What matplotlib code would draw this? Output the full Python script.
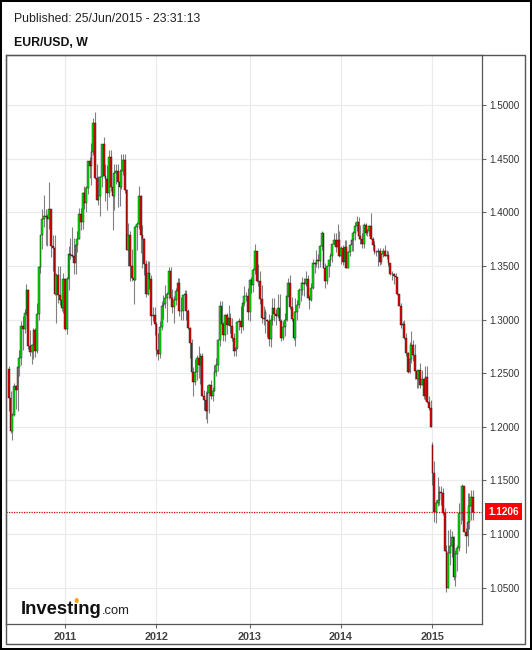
import matplotlib
matplotlib.use('Agg')
import matplotlib.pyplot as plt
import numpy as np
import pandas as pd
from matplotlib.patches import Rectangle, Circle
import matplotlib.transforms as mtransforms

plt.rcParams['font.family'] = ['Liberation Sans', 'DejaVu Sans']

# ---------------- data ----------------
first_week = '2010-05-23'
published = 'Published: 25/Jun/2015 - 23:31:13'
title = 'EUR/USD, W'
current_price = 1.1206
price_ticks = [1.05, 1.10, 1.15, 1.20, 1.25, 1.30, 1.35, 1.40, 1.45, 1.50]

opens_2010 = [1.2540, 1.2270, 1.1960, 1.2110, 1.2380, 1.2340, 1.2560, 1.2640, 1.2940, 1.2910, 1.3060, 1.3280,
              1.2750, 1.2700, 1.2760, 1.2900, 1.2710, 1.3050, 1.3490, 1.3790, 1.3940, 1.3970, 1.3960, 1.3940,
              1.4030, 1.3690, 1.3670, 1.3240, 1.3420, 1.3230, 1.3180, 1.3110]
highs_2010 = [1.2570, 1.2330, 1.2130, 1.2410, 1.2390, 1.2570, 1.2720, 1.2990, 1.3030, 1.3100, 1.3330, 1.3290,
              1.2900, 1.2770, 1.2920, 1.2920, 1.3160, 1.3500, 1.3790, 1.4030, 1.4160, 1.4030, 1.3990, 1.4280,
              1.4030, 1.3790, 1.3790, 1.3440, 1.3500, 1.3500, 1.3240, 1.3440]
lows_2010 = [1.2150, 1.1940, 1.1876, 1.2100, 1.2170, 1.2150, 1.2470, 1.2580, 1.2720, 1.2880, 1.3040, 1.2730,
             1.2660, 1.2590, 1.2630, 1.2650, 1.2690, 1.3000, 1.3440, 1.3660, 1.3860, 1.3700, 1.3690, 1.3850,
             1.3580, 1.3450, 1.3230, 1.2970, 1.3160, 1.3140, 1.3080, 1.3060]
closes_2010 = [1.2270, 1.1960, 1.2110, 1.2380, 1.2340, 1.2560, 1.2640, 1.2940, 1.2910, 1.3060, 1.3280, 1.2750,
               1.2700, 1.2760, 1.2900, 1.2710, 1.3050, 1.3490, 1.3790, 1.3940, 1.3970, 1.3960, 1.3940, 1.4030,
               1.3690, 1.3670, 1.3240, 1.3420, 1.3230, 1.3180, 1.3110, 1.3380]

opens_2011 = [1.3380, 1.2910, 1.3380, 1.3610, 1.3600, 1.3590, 1.3530, 1.3700, 1.3750, 1.3990, 1.3910, 1.4180,
              1.4090, 1.4230, 1.4480, 1.4430, 1.4560, 1.4830, 1.4320, 1.4120, 1.4150, 1.4330, 1.4640, 1.4340,
              1.4310, 1.4180, 1.4520, 1.4240, 1.4150, 1.4370, 1.4390, 1.4280, 1.4240, 1.4390, 1.4490, 1.4210,
              1.3650, 1.3790, 1.3500, 1.3390, 1.3370, 1.3860, 1.3890, 1.4150, 1.3790, 1.3750, 1.3520, 1.3240,
              1.3440, 1.3380, 1.3030, 1.3045]
highs_2011 = [1.3390, 1.3400, 1.3690, 1.3760, 1.3860, 1.3760, 1.3720, 1.3830, 1.4040, 1.4040, 1.4190, 1.4250,
              1.4250, 1.4480, 1.4520, 1.4650, 1.4880, 1.4940, 1.4450, 1.4340, 1.4340, 1.4640, 1.4700, 1.4450,
              1.4440, 1.4580, 1.4580, 1.4280, 1.4450, 1.4450, 1.4450, 1.4410, 1.4550, 1.4550, 1.4550, 1.4220,
              1.3900, 1.3830, 1.3660, 1.3450, 1.3880, 1.3910, 1.4250, 1.4160, 1.3880, 1.3760, 1.3560, 1.3550,
              1.3550, 1.3420, 1.3120, 1.3120]
lows_2011 = [1.2900, 1.2870, 1.3280, 1.3570, 1.3580, 1.3430, 1.3430, 1.3630, 1.3750, 1.3840, 1.3850, 1.4030,
             1.4000, 1.4170, 1.4320, 1.4260, 1.4540, 1.4310, 1.4120, 1.4070, 1.3970, 1.4240, 1.4340, 1.4110,
             1.4020, 1.4140, 1.4200, 1.3840, 1.4020, 1.4270, 1.4050, 1.4060, 1.4220, 1.4350, 1.4180, 1.3650,
             1.3500, 1.3360, 1.3360, 1.3150, 1.3370, 1.3650, 1.3850, 1.3620, 1.3480, 1.3420, 1.3210, 1.3230,
             1.3290, 1.2950, 1.2990, 1.2860]
closes_2011 = [1.2910, 1.3380, 1.3610, 1.3600, 1.3590, 1.3530, 1.3700, 1.3750, 1.3990, 1.3910, 1.4180, 1.4090,
               1.4230, 1.4480, 1.4430, 1.4560, 1.4830, 1.4320, 1.4120, 1.4150, 1.4330, 1.4640, 1.4340, 1.4310,
               1.4180, 1.4520, 1.4240, 1.4150, 1.4370, 1.4390, 1.4280, 1.4240, 1.4390, 1.4490, 1.4210, 1.3650,
               1.3790, 1.3500, 1.3390, 1.3370, 1.3860, 1.3890, 1.4150, 1.3790, 1.3750, 1.3520, 1.3240, 1.3440,
               1.3380, 1.3030, 1.3045, 1.2960]

opens_2012 = [1.2960, 1.2720, 1.2680, 1.2930, 1.3130, 1.3150, 1.3200, 1.3240, 1.3450, 1.3200, 1.3120, 1.3180,
              1.3270, 1.3340, 1.3080, 1.3080, 1.3230, 1.3240, 1.3080, 1.2920, 1.2780, 1.2510, 1.2420, 1.2510,
              1.2640, 1.2580, 1.2660, 1.2290, 1.2250, 1.2150, 1.2320, 1.2390, 1.2290, 1.2330, 1.2510, 1.2580,
              1.2810, 1.3130, 1.2960, 1.2860, 1.3040, 1.2950, 1.3020, 1.2940, 1.2830, 1.2710, 1.2740, 1.2980,
              1.2990, 1.2930, 1.3160, 1.3220, 1.3220]
highs_2012 = [1.2980, 1.2880, 1.2990, 1.3170, 1.3230, 1.3320, 1.3260, 1.3490, 1.3490, 1.3290, 1.3220, 1.3300,
              1.3390, 1.3390, 1.3210, 1.3220, 1.3280, 1.3280, 1.3100, 1.2930, 1.2820, 1.2560, 1.2630, 1.2670,
              1.2750, 1.2690, 1.2690, 1.2340, 1.2330, 1.2390, 1.2400, 1.2440, 1.2370, 1.2580, 1.2640, 1.2820,
              1.3170, 1.3170, 1.2980, 1.3050, 1.3060, 1.3140, 1.3060, 1.3020, 1.2880, 1.2810, 1.2990, 1.3020,
              1.3130, 1.3170, 1.3310, 1.3260, 1.3300]
lows_2012 = [1.2660, 1.2620, 1.2640, 1.2900, 1.3010, 1.3110, 1.2980, 1.3190, 1.3140, 1.3060, 1.2970, 1.3140,
             1.3230, 1.3030, 1.3000, 1.3000, 1.3110, 1.3000, 1.2910, 1.2640, 1.2500, 1.2290, 1.2390, 1.2440,
             1.2460, 1.2400, 1.2290, 1.2160, 1.2070, 1.2040, 1.2130, 1.2260, 1.2240, 1.2330, 1.2470, 1.2520,
             1.2750, 1.2920, 1.2800, 1.2800, 1.2870, 1.2950, 1.2880, 1.2800, 1.2660, 1.2660, 1.2730, 1.2900,
             1.2880, 1.2900, 1.3130, 1.3170, 1.3000]
closes_2012 = [1.2720, 1.2680, 1.2930, 1.3130, 1.3150, 1.3200, 1.3240, 1.3450, 1.3200, 1.3120, 1.3180, 1.3270,
               1.3340, 1.3080, 1.3080, 1.3230, 1.3240, 1.3080, 1.2920, 1.2780, 1.2510, 1.2420, 1.2510, 1.2640,
               1.2580, 1.2660, 1.2290, 1.2250, 1.2150, 1.2320, 1.2390, 1.2290, 1.2330, 1.2510, 1.2580, 1.2810,
               1.3130, 1.2960, 1.2860, 1.3040, 1.2950, 1.3020, 1.2940, 1.2830, 1.2710, 1.2740, 1.2980, 1.2990,
               1.2930, 1.3160, 1.3220, 1.3220, 1.3070]

opens_2013 = [1.3070, 1.3370, 1.3320, 1.3460, 1.3640, 1.3365, 1.3360, 1.3190, 1.3020, 1.3005, 1.3000, 1.2990,
              1.2820, 1.2995, 1.3110, 1.3050, 1.3030, 1.3110, 1.2990, 1.2830, 1.2930, 1.2996, 1.3220, 1.3345,
              1.3120, 1.3010, 1.2830, 1.3070, 1.3140, 1.3280, 1.3280, 1.3340, 1.3330, 1.3380, 1.3200, 1.3180,
              1.3300, 1.3525, 1.3520, 1.3555, 1.3550, 1.3685, 1.3805, 1.3485, 1.3365, 1.3500, 1.3555, 1.3590,
              1.3705, 1.3740, 1.3675, 1.3740]
highs_2013 = [1.3380, 1.3400, 1.3480, 1.3710, 1.3640, 1.3520, 1.3450, 1.3320, 1.3130, 1.3100, 1.3010, 1.3050,
              1.3040, 1.3200, 1.3200, 1.3100, 1.3240, 1.3240, 1.3010, 1.2990, 1.3060, 1.3240, 1.3390, 1.3420,
              1.3210, 1.3080, 1.3200, 1.3180, 1.3300, 1.3350, 1.3400, 1.3390, 1.3450, 1.3420, 1.3230, 1.3340,
              1.3570, 1.3540, 1.3650, 1.3610, 1.3700, 1.3830, 1.3810, 1.3530, 1.3490, 1.3550, 1.3620, 1.3710,
              1.3810, 1.3810, 1.3890, 1.3830]
lows_2013 = [1.2990, 1.3250, 1.3260, 1.3430, 1.3350, 1.3310, 1.3150, 1.2970, 1.2950, 1.2880, 1.2840, 1.2750,
             1.2745, 1.2950, 1.2990, 1.2950, 1.3020, 1.2960, 1.2800, 1.2810, 1.2850, 1.2990, 1.3210, 1.3100,
             1.2990, 1.2810, 1.2750, 1.3000, 1.3110, 1.3170, 1.3230, 1.3220, 1.3310, 1.3200, 1.3100, 1.3170,
             1.3290, 1.3440, 1.3490, 1.3480, 1.3490, 1.3650, 1.3480, 1.3300, 1.3330, 1.3400, 1.3500, 1.3540,
             1.3700, 1.3630, 1.3660, 1.3580]
closes_2013 = [1.3370, 1.3320, 1.3460, 1.3640, 1.3365, 1.3360, 1.3190, 1.3020, 1.3005, 1.3075, 1.2990, 1.2820,
               1.2995, 1.3110, 1.3050, 1.3030, 1.3110, 1.2990, 1.2830, 1.2930, 1.2996, 1.3220, 1.3345, 1.3120,
               1.3010, 1.2830, 1.3070, 1.3140, 1.3280, 1.3280, 1.3340, 1.3330, 1.3380, 1.3200, 1.3180, 1.3300,
               1.3525, 1.3520, 1.3555, 1.3550, 1.3685, 1.3805, 1.3485, 1.3365, 1.3500, 1.3555, 1.3590, 1.3705,
               1.3740, 1.3675, 1.3740, 1.3590]

opens_2014 = [1.3590, 1.3670, 1.3540, 1.3675, 1.3485, 1.3630, 1.3695, 1.3740, 1.3805, 1.3875, 1.3910, 1.3780,
              1.3750, 1.3705, 1.3885, 1.3810, 1.3830, 1.3870, 1.3755, 1.3695, 1.3630, 1.3635, 1.3645, 1.3540,
              1.3610, 1.3645, 1.3595, 1.3605, 1.3525, 1.3430, 1.3425, 1.3410, 1.3400, 1.3240, 1.3130, 1.2950,
              1.2960, 1.2830, 1.2685, 1.2515, 1.2630, 1.2760, 1.2670, 1.2525, 1.2450, 1.2530, 1.2390, 1.2450,
              1.2290, 1.2465, 1.2230, 1.2180]
highs_2014 = [1.3690, 1.3700, 1.3740, 1.3740, 1.3640, 1.3710, 1.3770, 1.3830, 1.3915, 1.3970, 1.3960, 1.3880,
              1.3810, 1.3900, 1.3900, 1.3850, 1.3880, 1.3993, 1.3770, 1.3730, 1.3650, 1.3670, 1.3670, 1.3620,
              1.3670, 1.3700, 1.3650, 1.3640, 1.3530, 1.3450, 1.3440, 1.3440, 1.3400, 1.3240, 1.3160, 1.2990,
              1.3000, 1.2880, 1.2700, 1.2790, 1.2890, 1.2810, 1.2770, 1.2530, 1.2530, 1.2600, 1.2530, 1.2460,
              1.2570, 1.2570, 1.2290, 1.2250]
lows_2014 = [1.3520, 1.3510, 1.3510, 1.3480, 1.3480, 1.3590, 1.3640, 1.3640, 1.3740, 1.3830, 1.3750, 1.3710,
             1.3670, 1.3670, 1.3790, 1.3780, 1.3780, 1.3750, 1.3650, 1.3610, 1.3590, 1.3500, 1.3510, 1.3520,
             1.3580, 1.3590, 1.3570, 1.3500, 1.3420, 1.3370, 1.3330, 1.3330, 1.3230, 1.3140, 1.2920, 1.2860,
             1.2820, 1.2660, 1.2500, 1.2500, 1.2600, 1.2610, 1.2450, 1.2360, 1.2360, 1.2360, 1.2390, 1.2260,
             1.2250, 1.2220, 1.2160, 1.2000]
closes_2014 = [1.3670, 1.3540, 1.3675, 1.3485, 1.3630, 1.3695, 1.3740, 1.3805, 1.3875, 1.3910, 1.3780, 1.3750,
               1.3705, 1.3885, 1.3810, 1.3830, 1.3870, 1.3755, 1.3695, 1.3630, 1.3635, 1.3645, 1.3540, 1.3610,
               1.3645, 1.3595, 1.3605, 1.3525, 1.3430, 1.3425, 1.3410, 1.3400, 1.3240, 1.3130, 1.2950, 1.2960,
               1.2830, 1.2685, 1.2515, 1.2630, 1.2760, 1.2670, 1.2525, 1.2450, 1.2530, 1.2390, 1.2450, 1.2290,
               1.2465, 1.2230, 1.2180, 1.2000]

opens_2015 = [1.1830, 1.1565, 1.1205, 1.1290, 1.1315, 1.1390, 1.1380, 1.1195, 1.0840, 1.0495, 1.0820, 1.0890,
              1.0970, 1.0600, 1.0810, 1.0870, 1.1200, 1.1200, 1.1445, 1.1015, 1.0985, 1.1110, 1.1260, 1.1350]
highs_2015 = [1.1860, 1.1680, 1.1320, 1.1535, 1.1450, 1.1450, 1.1430, 1.1240, 1.0900, 1.1040, 1.1050, 1.1030,
              1.0980, 1.0850, 1.0900, 1.1290, 1.1390, 1.1470, 1.1450, 1.1060, 1.1380, 1.1380, 1.1410, 1.1410]
lows_2015 = [1.1460, 1.1115, 1.1100, 1.1260, 1.1270, 1.1270, 1.1180, 1.0840, 1.0460, 1.0500, 1.0710, 1.0790,
             1.0570, 1.0520, 1.0660, 1.0840, 1.1090, 1.1130, 1.1050, 1.0820, 1.0890, 1.1050, 1.1130, 1.1130]
closes_2015 = [1.1565, 1.1205, 1.1290, 1.1315, 1.1390, 1.1380, 1.1195, 1.0840, 1.0495, 1.0820, 1.0890, 1.0970,
               1.0600, 1.0810, 1.0870, 1.1200, 1.1200, 1.1445, 1.1015, 1.0985, 1.1110, 1.1260, 1.1350, 1.1206]

opens = np.array(opens_2010 + opens_2011 + opens_2012 + opens_2013 + opens_2014 + opens_2015)
highs = np.array(highs_2010 + highs_2011 + highs_2012 + highs_2013 + highs_2014 + highs_2015)
lows = np.array(lows_2010 + lows_2011 + lows_2012 + lows_2013 + lows_2014 + lows_2015)
closes = np.array(closes_2010 + closes_2011 + closes_2012 + closes_2013 + closes_2014 + closes_2015)

dates = pd.date_range(first_week, periods=len(closes), freq='7D')
idx = np.arange(len(closes))
year_list = sorted(set(dates.year))[1:]
year_pos = [int(idx[dates.year == y][0]) for y in year_list]

# ---------------- figure ----------------
W, H = 532, 650
fig = plt.figure(figsize=(W / 100, H / 100), dpi=100)
fig.patch.set_facecolor('white')

def fx(px):
    return px / W

def fy(py):
    return 1 - py / H

ax = fig.add_axes([fx(6), fy(624), fx(482) - fx(6), fy(55) - fy(624)])
ax.set_xlim(-1.6, 269.2)
ax.set_ylim(1.0161, 1.5469)
ax.set_axisbelow(True)

# grid
ax.set_yticks(price_ticks)
ax.set_yticklabels(['%.4f' % p for p in price_ticks])
ax.set_xticks(year_pos)
ax.set_xticklabels([str(y) for y in year_list], fontweight='bold')
ax.grid(True, color='#ebebeb', lw=0.9)
ax.yaxis.tick_right()
ax.tick_params(axis='y', direction='out', length=3, width=0.8, color='#666',
               labelsize=7.1, labelcolor='#333', pad=2)
ax.tick_params(axis='x', direction='out', length=3, width=0.8, color='#666',
               labelsize=7.8, labelcolor='#444', pad=2.5)
for s in ax.spines.values():
    s.set_color('#555')
    s.set_linewidth(0.9)

# candles
up = closes >= opens
body_colors = np.where(up, '#00e600', '#f00000')
ax.vlines(idx, lows, highs, color='#808080', lw=0.8, zorder=2)
ax.bar(idx, closes - opens, bottom=opens, width=1.0, color=body_colors,
       edgecolor='#1a1a1a', linewidth=0.3, zorder=3)

# current price line and label
ax.axhline(current_price, color='#e00000', ls=(0, (1, 1)), lw=0.9, zorder=4)
trans = mtransforms.blended_transform_factory(ax.transAxes, ax.transData)
ax.text((488 - 6) / (482 - 6), current_price, '%.4f' % current_price, transform=trans,
        ha='left', va='center', color='white', fontsize=7.2, fontweight='bold',
        bbox=dict(boxstyle='square,pad=0.35', fc='#ff0000', ec='none'), clip_on=False, zorder=5)

# header texts
fig.text(fx(14), fy(19), published, fontsize=8.8, color='#222', va='center', ha='left')
fig.text(fx(14), fy(43.5), title, fontsize=8.8, color='#111', va='center', ha='left', fontweight='bold')

# logo
logo_x, logo_base = fx(21), fy(614)
t_logo = fig.text(logo_x, logo_base, 'Investıng', fontsize=13.2, fontweight='bold',
                  color='#111', va='baseline', ha='left')
renderer = fig.canvas.get_renderer()
bb = t_logo.get_window_extent(renderer)
fig.text(bb.x1 / W + 0.0005, logo_base, '.com', fontsize=9.4, color='#222', va='baseline', ha='left')
t_a = fig.text(logo_x, logo_base, 'Invest', fontsize=13.2, fontweight='bold', va='baseline', ha='left')
t_b = fig.text(logo_x, logo_base, 'Investı', fontsize=13.2, fontweight='bold', va='baseline', ha='left')
xa = t_a.get_window_extent(renderer).x1
xb = t_b.get_window_extent(renderer).x1
t_a.remove()
t_b.remove()
dot_x = (xa + xb) / 2 / W
fig.add_artist(Circle((dot_x, fy(600.5)), radius=2.1 / W, transform=fig.transFigure,
                      fc='#f7a21b', ec='none'))

# frames
fig.add_artist(Rectangle((fx(6), fy(644)), fx(525) - fx(6), fy(55) - fy(644), transform=fig.transFigure,
                         fill=False, ec='#555', lw=1.0))
fig.add_artist(Rectangle((0, 0), 1, 1, transform=fig.transFigure, fill=False, ec='black', lw=2.9))

fig.savefig('out.png', dpi=100, facecolor='white')
